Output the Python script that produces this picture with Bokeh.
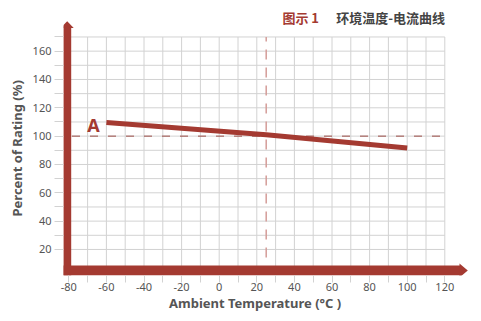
from bokeh.plotting import figure
from bokeh.models import Range1d, FixedTicker, Title
from bokeh.core.properties import value
from bokeh.embed import file_html
from bokeh.resources import INLINE

# ---------------- data ----------------
temperature = [-60, 25, 100]
rating = [109.7, 101.0, 91.6]
ref_rating = 100
ref_temperature = 25
x_major = [-80, -60, -40, -20, 0, 20, 40, 60, 80, 100, 120]
x_labels = ["-80", "-60", "-40", "-20", "0", "20", "40", "60", "80", "100", "120"]
x_minor = [-70, -50, -30, -10, 10, 30, 50, 70, 90, 110]
y_major = [20, 40, 60, 80, 100, 120, 140, 160]
y_labels = ["20", "40", "60", "80", "100", "120", "140", "160"]
y_minor = [30, 50, 70, 90, 110, 130, 150, 170]
title_prefix = "图示 1"
title_text = "环境温度-电流曲线"
curve_label = "A"
x_title = "Ambient Temperature (°C )"
y_title = "Percent of Rating (%)"

# ---------------- geometry / style ----------------
W, H = 481, 321
X0PX, XSCALE = 218.7, 1.88
Y0PX, YSCALE = 277.3, 1.4166


def px2x(px):
    return (px - X0PX) / XSCALE


def px2y(py):
    return (Y0PX - py) / YSCALE


FL, FR, FT, FB = 63, 481, 0, 275
RED = "#a43a31"
GRID = "#d2d2d2"
TXT = "#555555"
FONT = "Noto Sans"

p = figure(width=W, height=H,
           x_range=Range1d(px2x(FL), px2x(FR)),
           y_range=Range1d(px2y(FB), px2y(FT)),
           output_backend="svg", toolbar_location=None,
           min_border_left=FL, min_border_right=W - FR,
           min_border_top=FT, min_border_bottom=H - FB)
p.outline_line_color = None
p.xgrid.visible = False
p.ygrid.visible = False
p.background_fill_color = "white"
p.border_fill_color = "white"

# axes
xa = p.xaxis[0]
xa.ticker = FixedTicker(ticks=x_major, minor_ticks=x_minor)
xa.major_label_overrides = {v: s for v, s in zip(x_major, x_labels)}
ya = p.yaxis[0]
ya.ticker = FixedTicker(ticks=y_major, minor_ticks=y_minor)
ya.major_label_overrides = {v: s for v, s in zip(y_major, y_labels)}
for ax in (xa, ya):
    ax.axis_line_color = None
    ax.major_tick_line_color = GRID
    ax.minor_tick_line_color = GRID
    ax.major_tick_in = 0
    ax.minor_tick_in = 0
    ax.major_label_text_font = FONT
    ax.major_label_text_font_size = "11px"
    ax.major_label_text_color = TXT
xa.major_tick_out = 7
xa.minor_tick_out = 7
xa.major_label_standoff = 0
ya.major_tick_out = 9
ya.minor_tick_out = 9
ya.major_label_standoff = 3

# axis titles (as side titles so they can sit off-centre like the original)
p.add_layout(Title(text=x_title, align="left", offset=168.5 - FL, standoff=0,
                   vertical_align="top",
                   text_color=TXT, text_font=FONT, text_font_style="bold",
                   text_font_size="13px"), "below")
p.add_layout(Title(text=y_title, align="left", offset=FB - 216, standoff=8,
                   text_color=TXT, text_font=FONT, text_font_style="bold",
                   text_font_size="13px"), "left")

# grid lines
vx = x_major[1:] + x_minor
p.segment(x0=vx, y0=[px2y(FB)] * len(vx), x1=vx, y1=[y_minor[-1]] * len(vx),
          line_color=GRID, line_width=1)
hy = y_major + y_minor
p.segment(x0=[px2x(FL)] * len(hy), y0=hy, x1=[x_major[-1]] * len(hy), y1=hy,
          line_color=GRID, line_width=1)

# reference dashed lines
p.segment(x0=[px2x(71.5)], y0=[ref_rating], x1=[x_major[-1]], y1=[ref_rating],
          line_color="#9a4a44", line_width=1, line_dash="8 10")
p.segment(x0=[ref_temperature], y0=[px2y(257)], x1=[ref_temperature], y1=[y_minor[-1]],
          line_color="#d49c98", line_width=1.5, line_dash="10 8")

# data curve
p.line(temperature, rating, line_color=RED, line_width=5, line_cap="butt")

# red axes with arrows
p.quad(left=[px2x(62.7)], right=[px2x(70.7)], bottom=[px2y(FB)], top=[px2y(27.3)],
       fill_color=RED, line_color=None)
p.patch([px2x(60.2), px2x(73.2), px2x(66.7)], [px2y(27.5), px2y(27.5), px2y(20.7)],
        fill_color=RED, line_color=None)
p.quad(left=[px2x(62.7)], right=[px2x(459.5)], bottom=[px2y(FB)], top=[px2y(265)],
       fill_color=RED, line_color=None)
p.patch([px2x(459), px2x(459), px2x(467.3)], [px2y(263), px2y(277), px2y(270)],
        fill_color=RED, line_color=None)

# curve label
p.text(x=[px2x(93)], y=[px2y(124)], text=[curve_label], text_color=RED,
       text_font=value(FONT), text_font_style="bold", text_font_size="18px",
       text_align="center", text_baseline="middle")

# title
p.text(x=[px2x(444.5)], y=[px2y(16.5)], text=[title_text], text_color="#444444",
       text_font=value("Noto Sans CJK SC"), text_font_style="bold", text_font_size="13px",
       text_align="right", text_baseline="middle")
p.text(x=[px2x(318.5)], y=[px2y(16.5)], text=[title_prefix], text_color=RED,
       text_font=value("Noto Sans CJK SC"), text_font_style="bold", text_font_size="13px",
       text_align="right", text_baseline="middle")

open("out.html", "w").write(file_html(p, INLINE))
